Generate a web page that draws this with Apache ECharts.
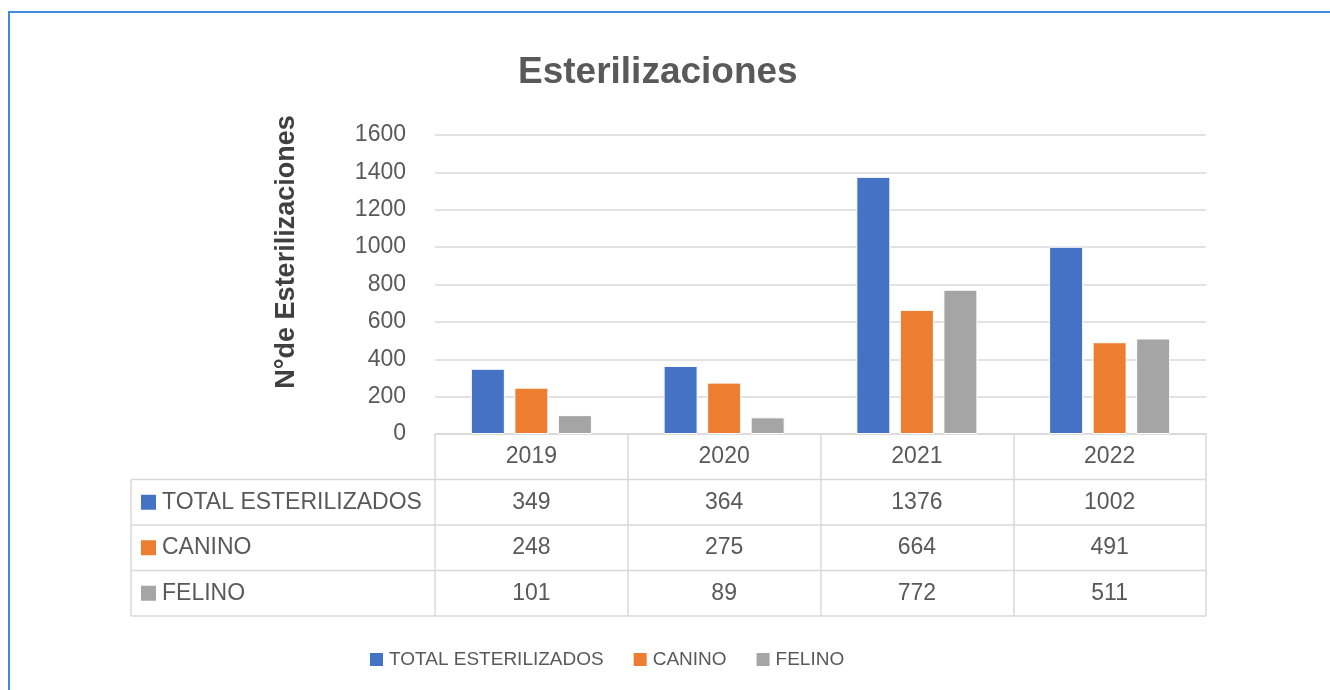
<!DOCTYPE html>
<html>
<head>
<meta charset="utf-8">
<title>Esterilizaciones</title>
<script src="https://cdn.jsdelivr.net/npm/echarts@6/dist/echarts.min.js"></script>
<style>
  html, body { margin: 0; padding: 0; background: #fff; }
  #chart { width: 1330px; height: 690px; }
</style>
</head>
<body>
<div id="chart"></div>
<script>
// data
const years = ['2019', '2020', '2021', '2022']
const seriesNames = ['TOTAL ESTERILIZADOS', 'CANINO', 'FELINO']
const totalValues = [349, 364, 1376, 1002]
const caninoValues = [248, 275, 664, 491]
const felinoValues = [101, 89, 772, 511]
const yTicks = [0, 200, 400, 600, 800, 1000, 1200, 1400, 1600]

const colors = ['#4472c4', '#ed7d31', '#a5a5a5']
const allValues = [totalValues, caninoValues, felinoValues]

// layout of plot + data table
const plotLeft = 435
const plotRight = 1206
const plotTop = 135
const plotBottom = 434
const rowH = 45.5
const tableLeft = 131
const textColor = '#595959'
const lineColor = '#d9d9d9'
const font = 'Liberation Sans, Arial, sans-serif'

const chart = echarts.init(document.getElementById('chart'))

// table rows: horizontal lines, left border and row headers
let tableGraphics = []
for (let r = 1; r <= 4; r++) {
  tableGraphics.push({
    type: 'line',
    shape: { x1: tableLeft, y1: plotBottom + r * rowH, x2: plotRight, y2: plotBottom + r * rowH },
    style: { stroke: lineColor, lineWidth: 1.5 },
    silent: true
  })
}
tableGraphics.push({
  type: 'line',
  shape: { x1: tableLeft, y1: plotBottom + rowH, x2: tableLeft, y2: plotBottom + 4 * rowH },
  style: { stroke: lineColor, lineWidth: 1.5 },
  silent: true
})
seriesNames.forEach(function (name, i) {
  const cy = plotBottom + rowH * (i + 1.5)
  tableGraphics.push({
    type: 'rect',
    shape: { x: 141, y: cy - 7.5, width: 15, height: 15 },
    style: { fill: colors[i] },
    silent: true
  })
  tableGraphics.push({
    type: 'text',
    x: 162,
    y: cy,
    style: {
      text: name,
      fill: textColor,
      font: '23px ' + font,
      textAlign: 'left',
      textVerticalAlign: 'middle'
    },
    silent: true
  })
})

const option = {
  backgroundColor: '#fff',
  animation: false,
  title: {
    text: 'Esterilizaciones',
    left: 513,
    top: 49,
    textStyle: {
      color: textColor,
      fontFamily: font,
      fontWeight: 'bold',
      fontSize: 37
    }
  },
  legend: {
    data: seriesNames,
    left: 368,
    top: 650,
    padding: 0,
    itemWidth: 15,
    itemHeight: 15,
    itemGap: 28,
    icon: 'rect',
    textStyle: {
      color: textColor,
      fontFamily: font,
      fontSize: 19
    }
  },
  grid: {
    left: plotLeft,
    right: 1330 - plotRight,
    top: plotTop,
    bottom: 690 - plotBottom
  },
  xAxis: {
    type: 'category',
    data: years,
    axisLine: { lineStyle: { color: lineColor, width: 1.5 } },
    axisTick: {
      show: true,
      inside: false,
      length: rowH * 4,
      lineStyle: { color: lineColor, width: 1.5 }
    },
    axisLabel: {
      margin: 0,
      interval: 0,
      formatter: function (value, idx) {
        return [
          '{c|' + value + '}',
          '{c|' + totalValues[idx] + '}',
          '{c|' + caninoValues[idx] + '}',
          '{c|' + felinoValues[idx] + '}'
        ].join('\n')
      },
      rich: {
        c: {
          color: textColor,
          fontFamily: font,
          fontSize: 23,
          lineHeight: rowH
        }
      }
    }
  },
  yAxis: {
    type: 'value',
    min: yTicks[0],
    max: yTicks[yTicks.length - 1],
    interval: 200,
    axisLine: { show: false },
    axisTick: { show: false },
    axisLabel: {
      margin: 29,
      color: textColor,
      fontFamily: font,
      fontSize: 23,
      formatter: function (v) { return String(v) }
    },
    splitLine: { lineStyle: { color: lineColor, width: 1.5 } }
  },
  series: allValues.map(function (vals, i) {
    return {
      name: seriesNames[i],
      type: 'bar',
      data: vals,
      barWidth: 34,
      barGap: '28%',
      itemStyle: {
        color: colors[i],
        borderColor: '#fff',
        borderWidth: 1
      }
    }
  }),
  graphic: [
    {
      type: 'rect',
      shape: { x: 9, y: 12, width: 1340, height: 700 },
      style: { fill: 'none', stroke: '#3f8bd8', lineWidth: 2 },
      silent: true
    },
    {
      type: 'text',
      x: 287,
      y: 252,
      rotation: Math.PI / 2,
      style: {
        text: 'N°de Esterilizaciones',
        fill: '#404040',
        font: 'bold 27px ' + font,
        textAlign: 'center',
        textVerticalAlign: 'middle'
      },
      silent: true
    }
  ].concat(tableGraphics)
}

chart.setOption(option)
</script>
</body>
</html>
